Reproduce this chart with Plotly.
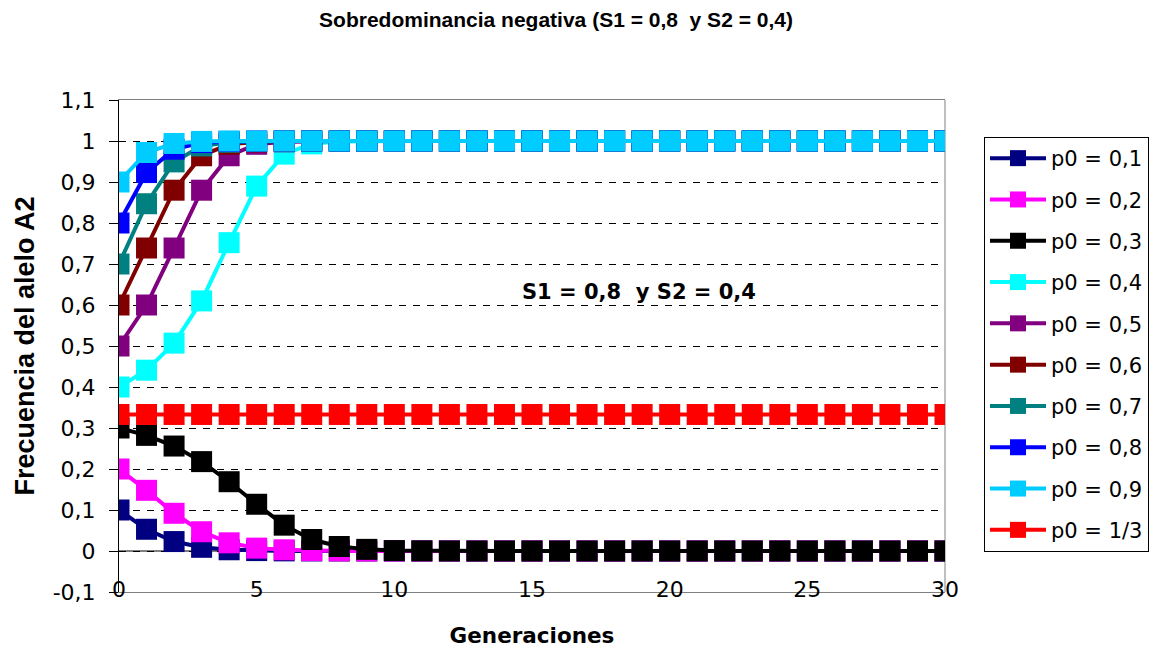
import plotly.graph_objects as go

generaciones = list(range(0, 31))

p0_01 = [0.1, 0.053, 0.023, 0.009, 0.003, 0.001, 0.0003, 0.0001, 0, 0, 0, 0, 0, 0, 0, 0,
         0, 0, 0, 0, 0, 0, 0, 0, 0, 0, 0, 0, 0, 0, 0]
p0_02 = [0.2, 0.148, 0.092, 0.047, 0.020, 0.007, 0.003, 0.001, 0.0003, 0.0001, 0, 0, 0, 0, 0, 0,
         0, 0, 0, 0, 0, 0, 0, 0, 0, 0, 0, 0, 0, 0, 0]
p0_03 = [0.3, 0.282, 0.256, 0.218, 0.169, 0.114, 0.063, 0.028, 0.011, 0.004, 0.001, 0.0004, 0.0001, 0, 0, 0,
         0, 0, 0, 0, 0, 0, 0, 0, 0, 0, 0, 0, 0, 0, 0]
p0_04 = [0.4, 0.441, 0.507, 0.610, 0.752, 0.890, 0.968, 0.993, 0.999, 1, 1, 1, 1, 1, 1, 1,
         1, 1, 1, 1, 1, 1, 1, 1, 1, 1, 1, 1, 1, 1, 1]
p0_05 = [0.5, 0.6, 0.739, 0.880, 0.964, 0.992, 0.998, 1, 1, 1, 1, 1, 1, 1, 1, 1,
         1, 1, 1, 1, 1, 1, 1, 1, 1, 1, 1, 1, 1, 1, 1]
p0_06 = [0.6, 0.739, 0.880, 0.964, 0.992, 0.998, 1, 1, 1, 1, 1, 1, 1, 1, 1, 1,
         1, 1, 1, 1, 1, 1, 1, 1, 1, 1, 1, 1, 1, 1, 1]
p0_07 = [0.7, 0.847, 0.949, 0.988, 0.997, 0.999, 1, 1, 1, 1, 1, 1, 1, 1, 1, 1,
         1, 1, 1, 1, 1, 1, 1, 1, 1, 1, 1, 1, 1, 1, 1]
p0_08 = [0.8, 0.923, 0.980, 0.996, 0.999, 1, 1, 1, 1, 1, 1, 1, 1, 1, 1, 1,
         1, 1, 1, 1, 1, 1, 1, 1, 1, 1, 1, 1, 1, 1, 1]
p0_09 = [0.9, 0.972, 0.994, 0.999, 1, 1, 1, 1, 1, 1, 1, 1, 1, 1, 1, 1,
         1, 1, 1, 1, 1, 1, 1, 1, 1, 1, 1, 1, 1, 1, 1]
p0_13 = [0.333, 0.333, 0.333, 0.333, 0.333, 0.333, 0.333, 0.333, 0.333, 0.333, 0.333,
         0.333, 0.333, 0.333, 0.333, 0.333, 0.333, 0.333, 0.333, 0.333, 0.333,
         0.333, 0.333, 0.333, 0.333, 0.333, 0.333, 0.333, 0.333, 0.333, 0.333]

series_names = ["p0 = 0,1", "p0 = 0,2", "p0 = 0,3", "p0 = 0,4", "p0 = 0,5",
                "p0 = 0,6", "p0 = 0,7", "p0 = 0,8", "p0 = 0,9", "p0 = 1/3"]
series_values = [p0_01, p0_02, p0_03, p0_04, p0_05, p0_06, p0_07, p0_08, p0_09, p0_13]
series_colors = ["#000080", "#FF00FF", "#000000", "#00FFFF", "#800080",
                 "#800000", "#008080", "#0000FF", "#00CCFF", "#FF0000"]

y_tick_vals = [-0.1, 0, 0.1, 0.2, 0.3, 0.4, 0.5, 0.6, 0.7, 0.8, 0.9, 1.0, 1.1]
y_tick_text = ["-0,1", "0", "0,1", "0,2", "0,3", "0,4", "0,5", "0,6", "0,7", "0,8", "0,9", "1", "1,1"]
x_tick_vals = [0, 5, 10, 15, 20, 25, 30]

fig = go.Figure()
for i, (name, vals, col) in enumerate(zip(series_names, series_values, series_colors)):
    fig.add_trace(go.Scatter(
        x=generaciones, y=vals, name=name, mode="lines+markers",
        line=dict(color=col, width=4),
        marker=dict(symbol="square", size=21, color=col),
        legendgroup=f"g{i}",
    ))

tick_font = dict(family="DejaVu Sans", size=22, color="#000000")

W, H = 1153, 640  # page body has an 8px margin
fig.update_layout(
    width=W, height=H,
    paper_bgcolor="white", plot_bgcolor="white",
    margin=dict(l=111, r=216, t=92, b=56, autoexpand=False),
    separators=",.",
    title=dict(
        text="Sobredominancia negativa (S1 = 0,8\u00a0 y S2 = 0,4)",
        font=dict(family="Liberation Sans", size=21, color="#000000", weight="bold"),
        x=(556 - 8) / W, xanchor="center", y=1 - (20 - 8) / H, yanchor="middle",
    ),
    showlegend=True,
    legend=dict(
        x=(984 - 119) / 826, xanchor="left", y=(592 - 137) / 492, yanchor="top",
        bordercolor="#000000", borderwidth=1, bgcolor="white",
        font=dict(family="DejaVu Sans", size=21, color="#000000"),
        traceorder="grouped", tracegroupgap=11, itemwidth=56,
    ),
    xaxis=dict(
        range=[0, 30], tickvals=x_tick_vals, ticks="", showgrid=False, zeroline=False,
        showline=True, linecolor="#808080", linewidth=1, mirror=True,
        tickfont=tick_font, ticklabelstandoff=-22,
        title=dict(text="Generaciones", standoff=27,
                   font=dict(family="DejaVu Sans", size=21.5, color="#000000", weight="bold")),
    ),
    yaxis=dict(
        range=[-0.1, 1.1], tickvals=y_tick_vals, ticktext=y_tick_text,
        ticks="outside", ticklen=9, tickcolor="#000000",
        showgrid=True, gridcolor="#000000", gridwidth=1, griddash="7px,7px",
        zeroline=False, showline=True, linecolor="#000000", linewidth=1,
        tickfont=tick_font, ticklabelstandoff=9,
        title=dict(text="Frecuencia del alelo A2", standoff=10,
                   font=dict(family="Liberation Sans", size=27, color="#000000", weight="bold")),
    ),
    annotations=[dict(
        x=18.9, y=0.632, xref="x", yref="y", showarrow=False,
        text="S1 = 0,8\u00a0 y S2 = 0,4",
        font=dict(family="DejaVu Sans", size=21, color="#000000", weight="bold"),
    )],
    shapes=[
        dict(type="line", xref="paper", yref="paper", x0=1, x1=1, y0=0, y1=1,
             line=dict(color="#808080", width=1), layer="below"),
        dict(type="line", xref="x", yref="y", x0=0, x1=30, y0=0, y1=0,
             line=dict(color="#000000", width=1), layer="below"),
    ],
)

fig.write_html("out.html")
